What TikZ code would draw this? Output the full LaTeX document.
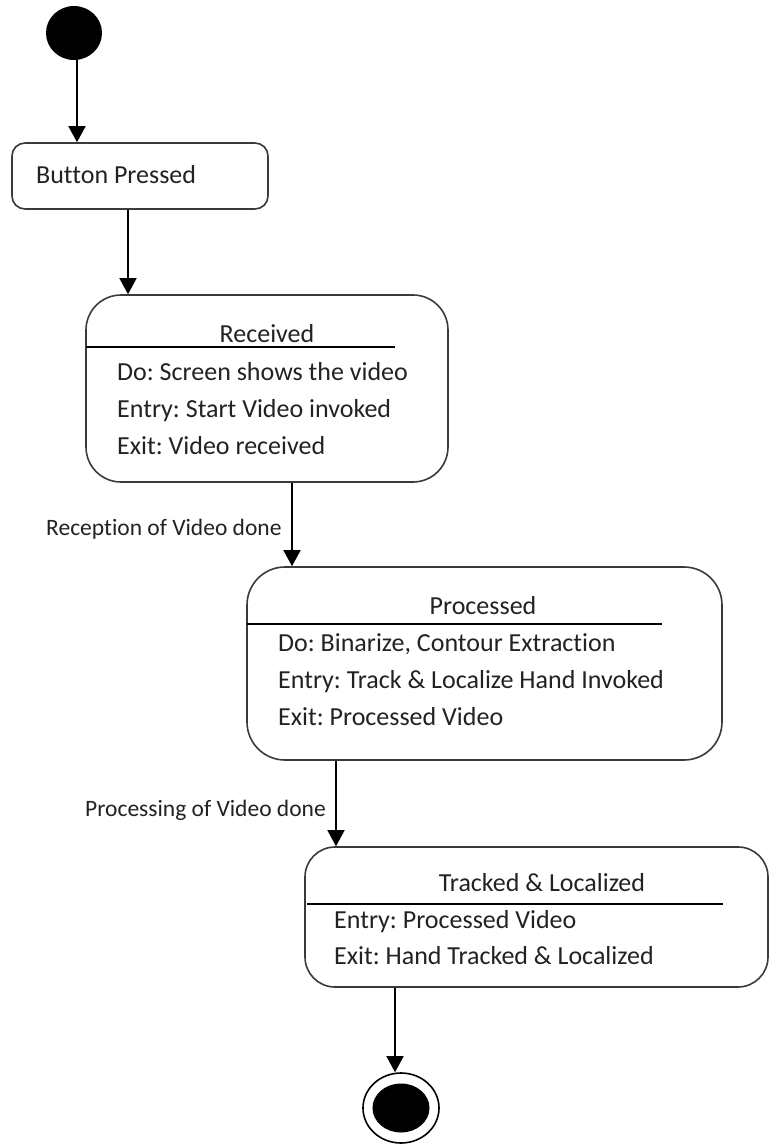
\documentclass[tikz,border=0pt]{standalone}
\usepackage{fontspec}
\setmainfont{Carlito}[RawFeature=-liga]
\frenchspacing
\usetikzlibrary{arrows.meta,shapes.geometric}
\definecolor{edge}{HTML}{3A3A3A}
\definecolor{ink}{HTML}{222222}
\begin{document}
\begin{tikzpicture}[x=1pt,y=-1pt,
  statebox/.style={draw=edge,line width=1.6pt,rectangle,inner sep=0pt,fill=white},
  txt/.style={anchor=base west,inner sep=0pt,text=ink,font=\fontsize{26}{30}\selectfont},
  ttl/.style={anchor=base,inner sep=0pt,text=ink,font=\fontsize{26}{30}\selectfont},
  lbl/.style={anchor=base west,inner sep=0pt,text=ink,font=\fontsize{23.5}{28}\selectfont},
  divider/.style={line width=1.4pt,black},
  flow/.style={line width=1.6pt,black,-{Triangle[length=16pt,width=17pt]}},
  dot/.style={ellipse,fill=black,inner sep=0pt}]
\useasboundingbox (0,0) rectangle (770,1145);
\fill[white] (0,0) rectangle (770,1145);

% initial pseudo-state
\node[dot,minimum width=56pt,minimum height=54pt] (init) at (74,33) {};

% Button Pressed
\node[statebox,rounded corners=13pt,minimum width=256pt,minimum height=66pt] (btn) at (140,176) {};
\node[txt] (btnT) at (36,183) {Button Pressed};

% Received
\node[statebox,rounded corners=35pt,minimum width=362pt,minimum height=187pt] (rec) at (267,388.5) {};
\node[ttl] (recT) at (267,342) {Received};
\coordinate (recL) at (86,347);
\coordinate (recR) at (395,347);
\draw[divider] (recL) -- (recR);
\node[txt] (rec1) at (117,380) {Do: Screen shows the video};
\node[txt] (rec2) at (117,417) {Entry: Start Video invoked};
\node[txt] (rec3) at (117,454) {Exit: Video received};

% Processed
\node[statebox,rounded corners=38pt,minimum width=475pt,minimum height=193pt] (pro) at (484.5,663.5) {};
\node[ttl] (proT) at (483,614) {Processed};
\coordinate (proL) at (247,624);
\coordinate (proR) at (662,624);
\draw[divider] (proL) -- (proR);
\node[txt] (pro1) at (278,651) {Do: Binarize, Contour Extraction};
\node[txt] (pro2) at (278,688) {Entry: Track \& Localize Hand Invoked};
\node[txt] (pro3) at (278,725) {Exit: Processed Video};

% Tracked & Localized
\node[statebox,rounded corners=30pt,minimum width=463pt,minimum height=140pt] (trk) at (536.5,917) {};
\node[ttl] (trkT) at (542,891) {Tracked \& Localized};
\coordinate (trkL) at (307,904);
\coordinate (trkR) at (723,904);
\draw[divider] (trkL) -- (trkR);
\node[txt] (trk1) at (334,928) {Entry: Processed Video};
\node[txt] (trk2) at (334,964) {Exit: Hand Tracked \& Localized};

% final pseudo-state
\node[ellipse,draw=black,line width=1.6pt,inner sep=0pt,minimum width=76pt,minimum height=70pt] (fin) at (401,1108) {};
\node[dot,minimum width=57pt,minimum height=49pt] (finCore) at (fin.center) {};

% transitions
\draw[flow] ([xshift=3pt]init.south) -- ([xshift=-63pt]btn.north);
\draw[flow] ([xshift=-12pt]btn.south) -- ([xshift=-139pt]rec.north);
\draw[flow] ([xshift=25pt]rec.south) -- ([xshift=-192.5pt]pro.north);
\draw[flow] ([xshift=-148.5pt]pro.south) -- ([xshift=-200.5pt]trk.north);
\draw[flow] ([xshift=-141.5pt]trk.south) -- ([xshift=-6pt]fin.north);

% transition labels
\node[lbl] (lblRec) at (46,535) {Reception of Video done};
\node[lbl] (lblPro) at (85,816) {Processing of Video done};
\end{tikzpicture}
\end{document}
